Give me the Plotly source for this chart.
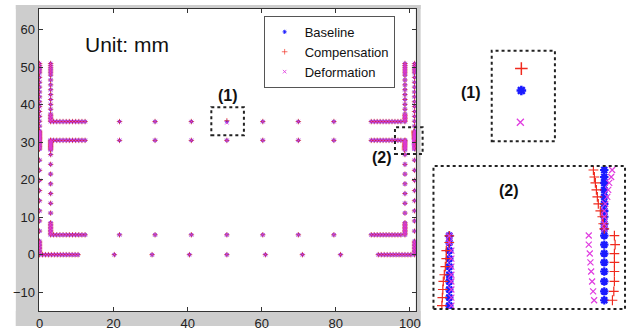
import plotly.graph_objects as go

W, H = 631, 331

# ---------------- node coordinates (mm) ----------------
# outer vertical members
COL_A_X = 0.0
COL_A_Y = [0.0, 0.4, 0.8, 1.2, 1.6, 2.0, 2.4, 2.8, 3.2, 3.6,
           6.3, 9.0, 11.7, 14.4, 17.1, 19.8, 22.5, 25.2,
           34.3, 35.6, 36.9, 38.2, 39.5, 40.8, 42.1, 43.4, 44.7, 46.0, 47.3,
           48.5, 49.0, 49.5, 50.0, 50.5, 51.0]
COL_A_JOINT_Y = [28.15, 28.48, 28.85, 29.22, 29.56, 29.89, 30.22, 30.56, 30.81,
                 31.0, 31.26, 31.48, 31.74, 32.0, 32.26, 32.52, 32.74, 33.0]
COL_D_X = 101.3
COL_D_Y = [0.0, 0.4, 0.8, 1.2, 1.6, 2.0, 2.4, 2.8, 3.2, 3.6,
           6.3, 9.0, 11.7, 14.4, 17.1, 19.8, 22.5, 25.2,
           34.3, 35.6, 36.9, 38.2, 39.5, 40.8, 42.1, 43.4, 44.7, 46.0, 47.3,
           48.5, 49.0, 49.5, 50.0, 50.5, 51.0]
COL_D_JOINT_Y = [28.15, 28.48, 28.85, 29.22, 29.56, 29.89, 30.22, 30.56, 30.81,
                 31.0, 31.26, 31.48, 31.74, 32.0, 32.26, 32.52, 32.74, 33.0]
COL_D_JOINT_COMP_DX = [0.137, 0.16, 0.17, 0.17, 0.17, 0.17, 0.182, 0.17, 0.0,
                       -0.017, -0.033, -0.066, -0.1, -0.116, -0.132, -0.149, -0.166, -0.182]
COL_D_JOINT_DEF_DX = [-0.17, -0.187, -0.204, -0.22, -0.232, -0.243, -0.26, -0.26, 0.0,
                      0.0, 0.0, 0.0, 0.017, 0.05, 0.066, 0.083, 0.116, 0.132]

# inner vertical members
COL_B_X = 3.0
COL_B_Y = [5.3, 5.7, 6.1, 6.5, 6.9, 7.3, 7.7, 8.1, 8.5,
           11.1, 13.7, 16.3, 18.9, 21.5, 24.1, 26.7,
           35.5, 35.9, 36.3, 36.7, 37.1, 37.5,
           38.8, 40.1, 41.4, 42.7, 44.0, 45.3, 46.6, 47.9,
           48.5, 49.0, 49.5, 50.0, 50.5, 51.0]
COL_B_HOOK_Y = [27.95, 28.25, 28.55, 28.85, 29.1, 29.4, 29.7, 30.0, 30.3, 30.55]
COL_C_X = 98.7
COL_C_Y = [5.3, 5.7, 6.1, 6.5, 6.9, 7.3, 7.7, 8.1, 8.5,
           11.1, 13.7, 16.3, 18.9, 21.5, 24.1, 26.7,
           35.5, 35.9, 36.3, 36.7, 37.1, 37.5,
           38.8, 40.1, 41.4, 42.7, 44.0, 45.3, 46.6, 47.9,
           48.5, 49.0, 49.5, 50.0, 50.5, 51.0]
COL_C_HOOK_Y = [27.95, 28.25, 28.55, 28.85, 29.1, 29.4, 29.7, 30.0, 30.3, 30.55]
COL_C_HOOK_COMP_DX = [-0.124, -0.116, -0.108, -0.1, -0.083, -0.066, -0.05, -0.05, 0.0, 0.0]
COL_C_HOOK_DEF_DX = [0.035, 0.035, 0.035, 0.035, 0.035, 0.035, 0.035, 0.035, 0.0, 0.0]

# horizontal members
ROW_0_Y = 0.0
ROW_0_X = [0.8, 1.6, 2.4, 3.2, 4.0, 4.8, 5.6, 6.4, 7.2, 8.0, 8.8, 9.6, 10.4,
           20.2, 30.4, 40.5, 50.6, 61.0, 71.0, 81.3,
           91.5, 92.3, 93.1, 93.9, 94.7, 95.5, 96.3, 97.1, 97.9, 98.7, 99.5, 100.3]
ROW_1_Y = 5.3
ROW_2_Y = 30.5
ROW_3_Y = 35.5
FLANGE_X = [3.8, 4.65, 5.5, 6.35, 7.2, 8.05, 8.9, 9.75, 10.6, 11.45, 12.3,
            21.6, 31.2, 41.0, 50.6, 60.3, 69.9, 79.5,
            89.6, 90.4, 91.2, 92.0, 92.8, 93.6, 94.4, 95.2, 96.0, 96.8, 97.6]
# node shown in enlargement (1)
NODE1_X = 50.6
NODE1_COMP_DY = 0.22
NODE1_DEF_DX = -0.01
NODE1_DEF_DY = -0.32

SERIES_NAMES = ["Baseline", "Compensation", "Deformation"]
X_TICKS = [0, 20, 40, 60, 80, 100]
Y_TICKS = [-10, 0, 10, 20, 30, 40, 50, 60]

# ---------------- assemble series ----------------
pts = {n: ([], []) for n in SERIES_NAMES}


def add(xs, ys, cdx=None, cdy=None, ddx=None, ddy=None):
    n = len(xs)
    z = [0.0] * n
    cdx = cdx or z
    cdy = cdy or z
    ddx = ddx or z
    ddy = ddy or z
    for i in range(n):
        pts["Baseline"][0].append(xs[i]); pts["Baseline"][1].append(ys[i])
        pts["Compensation"][0].append(xs[i] + cdx[i]); pts["Compensation"][1].append(ys[i] + cdy[i])
        pts["Deformation"][0].append(xs[i] + ddx[i]); pts["Deformation"][1].append(ys[i] + ddy[i])


def col(x, ys, **kw):
    add([x] * len(ys), list(ys), **kw)


def row(y, xs, **kw):
    add(list(xs), [y] * len(xs), **kw)


col(COL_A_X, COL_A_Y)
col(COL_A_X, COL_A_JOINT_Y)
col(COL_B_X, COL_B_Y)
col(COL_B_X, COL_B_HOOK_Y)
col(COL_C_X, COL_C_Y)
col(COL_C_X, COL_C_HOOK_Y, cdx=COL_C_HOOK_COMP_DX, ddx=COL_C_HOOK_DEF_DX)
col(COL_D_X, COL_D_Y)
col(COL_D_X, COL_D_JOINT_Y, cdx=COL_D_JOINT_COMP_DX, ddx=COL_D_JOINT_DEF_DX)
row(ROW_0_Y, ROW_0_X)
row(ROW_1_Y, FLANGE_X)
row(ROW_2_Y, FLANGE_X)
row(ROW_3_Y, FLANGE_X,
    cdy=[NODE1_COMP_DY if x == NODE1_X else 0.0 for x in FLANGE_X],
    ddx=[NODE1_DEF_DX if x == NODE1_X else 0.0 for x in FLANGE_X],
    ddy=[NODE1_DEF_DY if x == NODE1_X else 0.0 for x in FLANGE_X])

STYLE = {
    "Baseline": dict(symbol="asterisk-open", color="#1a1aff"),
    "Compensation": dict(symbol="cross-thin-open", color="#f02a1e"),
    "Deformation": dict(symbol="x-thin-open", color="#e03ce0"),
}
SIZES = {  # (main, inset1, inset2)
    "Baseline": (3.5, 8, 7),
    "Compensation": (4, 9, 7),
    "Deformation": (3.5, 7, 6),
}
WIDTHS = {
    "Baseline": (1.0, 2.5, 2.2),
    "Compensation": (0.9, 1.5, 1.2),
    "Deformation": (1.0, 1.3, 1.2),
}
OPAC = {"Baseline": 0.9, "Compensation": 0.75, "Deformation": 0.85}

fig = go.Figure()
for k, (xa, ya) in enumerate([("x", "y"), ("x2", "y2"), ("x3", "y3")]):
    for name in SERIES_NAMES:
        st = STYLE[name]
        fig.add_trace(go.Scatter(
            x=pts[name][0], y=pts[name][1], mode="markers", name=name,
            xaxis=xa, yaxis=ya, showlegend=(k == 0), hoverinfo="skip",
            marker=dict(symbol=st["symbol"], size=SIZES[name][k],
                        color=st["color"], opacity=OPAC[name] if k == 0 else 1.0,
                        line=dict(color=st["color"], width=WIDTHS[name][k])),
        ))


def px(x0, y0, x1, y1):
    return dict(xref="paper", yref="paper", x0=x0 / W, x1=x1 / W,
                y0=1 - y1 / H, y1=1 - y0 / H)


GRAY = "#cdcdcd"
shapes = []
for r in [(13, 5, 36, 328), (418, 5, 423, 328), (13, 5, 423, 9), (13, 313, 423, 328)]:
    shapes.append(dict(type="rect", layer="below", fillcolor=GRAY,
                       line=dict(width=0), **px(*r)))
for r in [(211, 108, 244, 136), (397, 128, 425, 155),
          (495, 51, 559, 142), (436, 167, 630, 311)]:
    shapes.append(dict(type="rect", layer="above", fillcolor="rgba(0,0,0,0)",
                       line=dict(color="#222", width=2, dash="dot"), **px(*r)))

annotations = [
    dict(text="Unit: mm", x=126 / W, y=1 - 45 / H, font=dict(size=21, color="#111")),
    dict(text="<b>(1)</b>", x=228 / W, y=1 - 96 / H, font=dict(size=16, color="#111")),
    dict(text="<b>(2)</b>", x=384 / W, y=1 - 158 / H, font=dict(size=16, color="#111")),
    dict(text="<b>(1)</b>", x=474 / W, y=1 - 93 / H, font=dict(size=16, color="#111")),
    dict(text="<b>(2)</b>", x=512 / W, y=1 - 192 / H, font=dict(size=16, color="#111")),
]
for a in annotations:
    a.update(xref="paper", yref="paper", showarrow=False, xanchor="center", yanchor="middle")

axis_common = dict(ticks="inside", ticklen=4, tickcolor="#333", showline=True,
                   mirror="ticks", linecolor="#333", linewidth=1,
                   showgrid=False, zeroline=False, tickfont=dict(size=13, color="#222"))
hidden = dict(visible=False, showgrid=False, zeroline=False)

fig.update_layout(
    width=W, height=H, autosize=False,
    margin=dict(l=0, r=0, t=0, b=0),
    paper_bgcolor="white", plot_bgcolor="white",
    font=dict(family="Liberation Sans, Arial, sans-serif", size=13, color="#222"),
    legend=dict(x=264 / W, y=1 - 16 / H, xanchor="left", yanchor="top",
                bgcolor="white", bordercolor="#555", borderwidth=1,
                font=dict(size=13, color="#111")),
    xaxis=dict(domain=[36 / W, 418 / W], range=[-0.27, 101.6], tickvals=X_TICKS,
               anchor="y", **axis_common),
    yaxis=dict(domain=[1 - 313 / H, 1 - 9 / H], range=[-15.05, 65.55], tickvals=Y_TICKS,
               anchor="x", **axis_common),
    xaxis2=dict(domain=[495 / W, 559 / W], range=[50.3, 50.94], anchor="y2", **hidden),
    yaxis2=dict(domain=[1 - 142 / H, 1 - 51 / H], range=[34.99, 35.9], anchor="x2", **hidden),
    xaxis3=dict(domain=[436 / W, 630 / W], range=[98.435, 101.648], anchor="y3", **hidden),
    yaxis3=dict(domain=[1 - 311 / H, 1 - 167 / H], range=[27.82, 33.15], anchor="x3", **hidden),
    shapes=shapes,
    annotations=annotations,
)

fig.write_html("out.html")
